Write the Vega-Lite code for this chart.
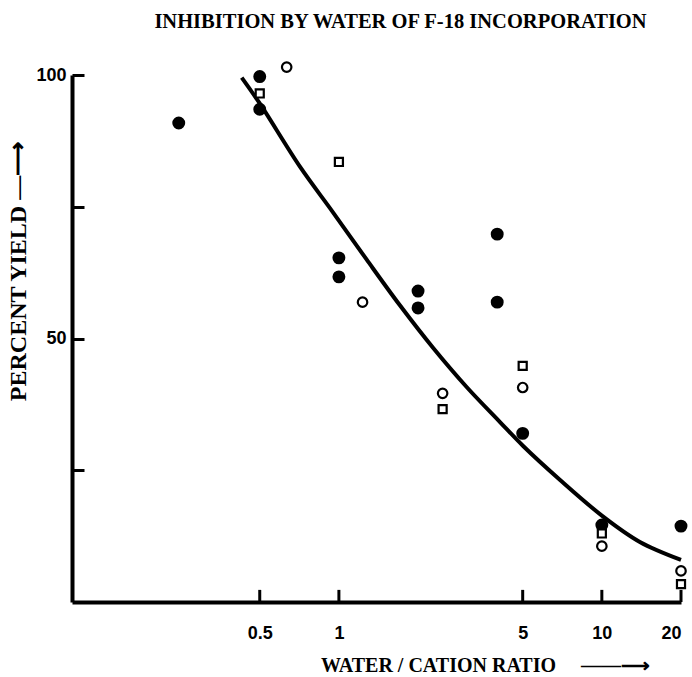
{
  "$schema": "https://vega.github.io/schema/vega-lite/v6.json",
  "autosize": {"type": "none"},
  "padding": {"left": 72, "top": 75, "right": 11, "bottom": 75},
  "width": 609,
  "height": 527,
  "background": "white",
  "title": {
    "text": "INHIBITION BY WATER OF F-18 INCORPORATION",
    "font": "Liberation Serif",
    "fontWeight": "bold",
    "fontSize": 20.5,
    "color": "black",
    "anchor": "middle",
    "dx": 24,
    "offset": 25
  },
  "config": {
    "view": {"stroke": null},
    "axis": {
      "grid": false,
      "domainColor": "black",
      "domainWidth": 4,
      "tickColor": "black",
      "tickWidth": 3,
      "tickSize": -12,
      "labelFont": "Liberation Sans",
      "labelFontWeight": "bold",
      "labelFontSize": 18,
      "labelColor": "black",
      "titleFont": "Liberation Serif",
      "titleFontWeight": "bold",
      "titleColor": "black",
      "titleFontSize": 20
    }
  },
  "datasets": {
    "points": [
      {"ratio": 0.246, "yield": 90.9, "series": "filled"},
      {"ratio": 0.5, "yield": 99.7, "series": "filled"},
      {"ratio": 0.5, "yield": 93.5, "series": "filled"},
      {"ratio": 1, "yield": 65.3, "series": "filled"},
      {"ratio": 1, "yield": 61.7, "series": "filled"},
      {"ratio": 2, "yield": 59.0, "series": "filled"},
      {"ratio": 2, "yield": 55.8, "series": "filled"},
      {"ratio": 4, "yield": 69.8, "series": "filled"},
      {"ratio": 4, "yield": 56.9, "series": "filled"},
      {"ratio": 5, "yield": 32.0, "series": "filled"},
      {"ratio": 10, "yield": 14.6, "series": "filled"},
      {"ratio": 20, "yield": 14.4, "series": "filled"},
      {"ratio": 0.633, "yield": 101.5, "series": "open"},
      {"ratio": 1.23, "yield": 56.9, "series": "open"},
      {"ratio": 2.48, "yield": 39.6, "series": "open"},
      {"ratio": 5, "yield": 40.7, "series": "open"},
      {"ratio": 10, "yield": 10.6, "series": "open"},
      {"ratio": 20, "yield": 5.9, "series": "open"},
      {"ratio": 0.5, "yield": 96.5, "series": "square"},
      {"ratio": 1, "yield": 83.5, "series": "square"},
      {"ratio": 2.48, "yield": 36.6, "series": "square"},
      {"ratio": 5, "yield": 44.8, "series": "square"},
      {"ratio": 10, "yield": 13.0, "series": "square"},
      {"ratio": 20, "yield": 3.4, "series": "square"}
    ],
    "curve": [
      {"ratio": 0.427, "yield": 99.5},
      {"ratio": 0.5, "yield": 94.6},
      {"ratio": 0.711, "yield": 82.6},
      {"ratio": 0.951, "yield": 73.9},
      {"ratio": 1.274, "yield": 65.0},
      {"ratio": 1.706, "yield": 56.3},
      {"ratio": 2.284, "yield": 48.2},
      {"ratio": 3.06, "yield": 40.8},
      {"ratio": 4.09, "yield": 34.2},
      {"ratio": 5.02, "yield": 29.6},
      {"ratio": 6.92, "yield": 23.2},
      {"ratio": 10, "yield": 16.4},
      {"ratio": 13.95, "yield": 11.4},
      {"ratio": 20, "yield": 8.0}
    ],
    "xticks": [
      {"ratio": 0.5},
      {"ratio": 1},
      {"ratio": 5},
      {"ratio": 10},
      {"ratio": 20}
    ]
  },
  "layer": [
    {
      "data": {"name": "curve"},
      "mark": {"type": "line", "interpolate": "catmull-rom", "color": "black", "strokeWidth": 4},
      "encoding": {
        "x": {
          "field": "ratio",
          "type": "quantitative",
          "scale": {"type": "log", "domain": [0.0966, 20], "nice": false},
          "axis": {
            "values": [0.5, 1, 5, 10, 20],
            "format": "~g",
            "ticks": false,
            "labelPadding": 22,
            "title": "WATER / CATION RATIO\u00a0\u00a0\u00a0\u00a0\u00a0——⟶",
            "titleX": 413,
            "titleY": 63,
            "titleBaseline": "middle",
            "titleAlign": "center"
          }
        },
        "y": {
          "field": "yield",
          "type": "quantitative",
          "scale": {"domain": [0, 100], "nice": false},
          "axis": {
            "values": [25, 50, 75, 100],
            "labelExpr": "datum.value == 50 || datum.value == 100 ? datum.label : ''",
            "labelPadding": 18,
            "title": "PERCENT YIELD —⟶",
            "titleAngle": -90,
            "titleX": -54,
            "titleY": 196,
            "titleAlign": "center",
            "titleBaseline": "middle",
            "titleFontSize": 24
          }
        }
      }
    },
    {
      "data": {"name": "xticks"},
      "mark": {"type": "rule", "color": "black", "strokeWidth": 3},
      "encoding": {
        "x": {"field": "ratio", "type": "quantitative"},
        "y": {"datum": 0},
        "y2": {"datum": 2.3}
      }
    },
    {
      "data": {"name": "points"},
      "mark": {"type": "point", "strokeWidth": 2.2, "opacity": 1, "stroke": "black"},
      "encoding": {
        "x": {"field": "ratio", "type": "quantitative"},
        "y": {"field": "yield", "type": "quantitative"},
        "shape": {
          "field": "series",
          "type": "nominal",
          "scale": {"domain": ["filled", "open", "square"], "range": ["circle", "circle", "square"]},
          "legend": null
        },
        "fill": {
          "field": "series",
          "type": "nominal",
          "scale": {"domain": ["filled", "open", "square"], "range": ["black", "white", "white"]},
          "legend": null
        },
        "size": {
          "field": "series",
          "type": "nominal",
          "scale": {"domain": ["filled", "open", "square"], "range": [115, 65, 150]},
          "legend": null
        }
      }
    }
  ]
}
